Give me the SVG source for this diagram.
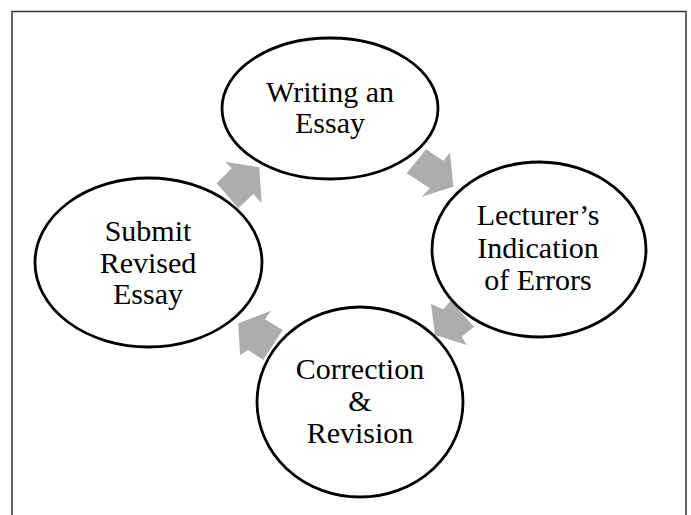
<svg xmlns="http://www.w3.org/2000/svg" width="691" height="515" viewBox="0 0 691 515">
<style>
.frame{fill:none;stroke:#333;stroke-width:1.5}
.node{fill:#fff;stroke:#000;stroke-width:2.8}
.lbl{font-family:"Liberation Serif","Times New Roman",serif;font-size:30px;fill:#000;text-anchor:middle}
.arr{fill:#adadad;stroke:none}
</style>
<rect width="691" height="515" fill="#fff"/>
<path class="frame" d="M12,516 V11.5 H686 V516"/>
<g id="connectors">
<polygon class="arr" points="225,161.7 259.3,167.3 261.7,203.3 253.3,194 238.3,208.3 216.7,183.3 231.7,168.3"/>
<polygon class="arr" points="426,149.3 443.3,160.7 450,152.7 453.3,186.7 421.7,196.7 430,188.3 406.7,173.3"/>
<polygon class="arr" points="431,304 443.3,309.3 450.7,300.7 474,326.7 461.7,336.7 466.7,345 435,335"/>
<polygon class="arr" points="271,310.7 265,319.3 282.7,330 263.3,360 248.3,350 240,355 238.3,323.3"/>
</g>
<g id="node-writing">
<ellipse class="node" cx="330" cy="108.5" rx="108" ry="70.5"/>
<text class="lbl" x="330" y="101.5">Writing an</text>
<text class="lbl" x="330" y="132.5">Essay</text>
</g>
<g id="node-lecturer">
<ellipse class="node" cx="539" cy="249.5" rx="107" ry="87.5"/>
<text class="lbl" x="538" y="225">Lecturer’s</text>
<text class="lbl" x="538" y="257.5">Indication</text>
<text class="lbl" x="538" y="289.5">of Errors</text>
</g>
<g id="node-correction">
<ellipse class="node" cx="360" cy="402" rx="103" ry="95"/>
<text class="lbl" x="360" y="379">Correction</text>
<text class="lbl" x="360" y="410.5">&amp;</text>
<text class="lbl" x="360" y="442.5">Revision</text>
</g>
<g id="node-submit">
<ellipse class="node" cx="148.5" cy="262.5" rx="113.5" ry="84.5"/>
<text class="lbl" x="148" y="241">Submit</text>
<text class="lbl" x="148" y="272.5">Revised</text>
<text class="lbl" x="148" y="304">Essay</text>
</g>
</svg>
